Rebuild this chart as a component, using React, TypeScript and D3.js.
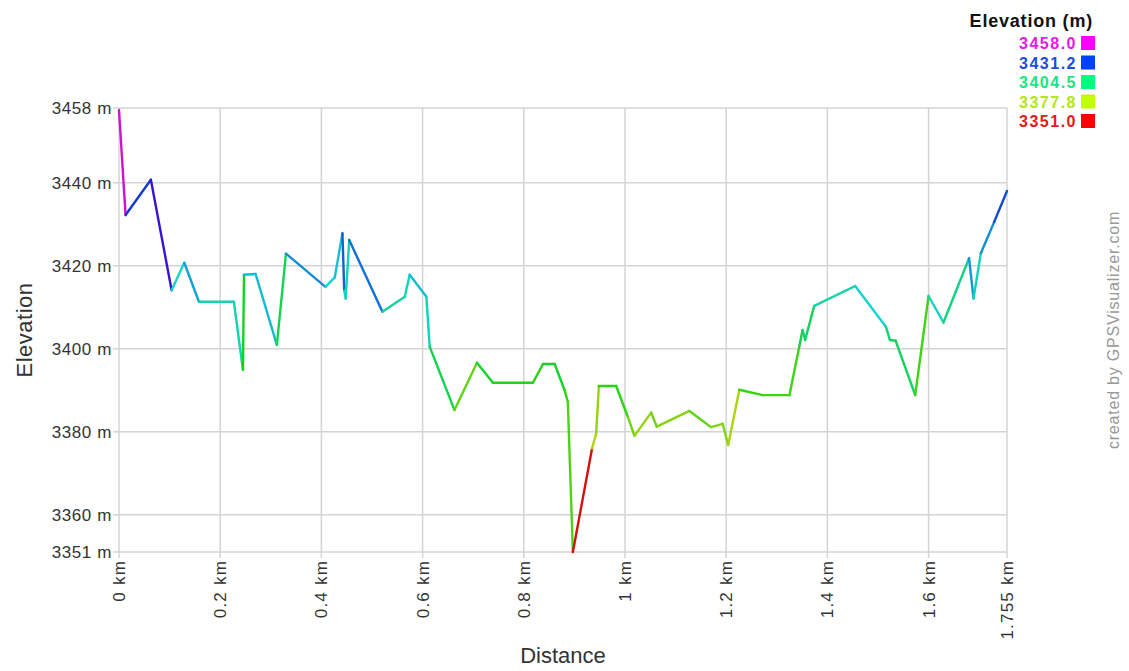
import React from 'react';
import * as d3 from 'd3';

const WIDTH = 1129;
const HEIGHT = 671;
const MARGIN = { top: 108, right: 122, bottom: 119, left: 119 };
const FONT = 'Liberation Sans, Arial, sans-serif';

// track profile
const distanceKm = [
  0, 0.013, 0.063, 0.104, 0.129, 0.158, 0.227, 0.245, 0.247, 0.27,
  0.312, 0.33, 0.408, 0.4265, 0.4416, 0.4451, 0.448, 0.455, 0.5206, 0.5647,
  0.5745, 0.6075, 0.614, 0.663, 0.7075, 0.739, 0.818, 0.838, 0.861, 0.8806,
  0.887, 0.897, 0.935, 0.943, 0.9484, 0.9826, 1.0055, 1.0188, 1.0517, 1.063,
  1.1273, 1.17, 1.193, 1.204, 1.226, 1.272, 1.325, 1.3445, 1.351, 1.356,
  1.374, 1.455, 1.5156, 1.5235, 1.535, 1.5736, 1.6, 1.6294, 1.68, 1.6888,
  1.7033, 1.7295, 1.755,
];
const elevationM = [
  3457.5, 3432.2, 3440.7, 3414.1, 3420.7, 3411.3, 3411.3, 3394.9, 3417.8, 3418.0,
  3400.9, 3422.9, 3414.9, 3417.2, 3427.8, 3414.0, 3412.1, 3426.2, 3408.9, 3412.5,
  3417.8, 3412.5, 3400.5, 3385.2, 3396.6, 3391.8, 3391.8, 3396.3, 3396.3, 3390.0,
  3387.2, 3351.0, 3376.0, 3379.6, 3391.0, 3391.0, 3383.6, 3379.0, 3384.6, 3381.2,
  3385.0, 3381.1, 3381.9, 3376.8, 3390.1, 3388.8, 3388.8, 3400.5, 3404.5, 3402.1,
  3410.3, 3415.1, 3405.3, 3402.1, 3401.9, 3388.8, 3412.7, 3406.3, 3421.8, 3412.1,
  3423.0, 3430.5, 3438.0,
];

const yTicks = [3458, 3440, 3420, 3400, 3380, 3360, 3351];
const xTicks = [0, 0.2, 0.4, 0.6, 0.8, 1, 1.2, 1.4, 1.6, 1.755];
const legendValues = [3458.0, 3431.2, 3404.5, 3377.8, 3351.0];

export default function App() {
  const x = d3.scaleLinear()
    .domain([0, 1.755])
    .range([MARGIN.left, WIDTH - MARGIN.right]);
  const y = d3.scaleLinear()
    .domain([3351, 3458])
    .range([HEIGHT - MARGIN.bottom, MARGIN.top]);
  const hue = d3.scaleLinear().domain([3351, 3458]).range([0, 300]);
  const lineColor = (v: number) => d3.hsl(hue(v), 0.85, 0.45).formatHex();
  const textColor = (v: number) => d3.hsl(hue(v), 0.8, 0.5).formatHex();
  const swatch = (v: number) => d3.hsl(hue(v), 1, 0.5).formatHex();

  const points = distanceKm.map((d, i) => ({ d, e: elevationM[i] }));
  const segments = d3.pairs(points);

  const [x0, x1] = x.range();
  const [yb, yt] = y.range();

  return (
    <svg
      width={WIDTH}
      height={HEIGHT}
      style={{ position: 'absolute', left: 0, top: 0, background: '#fff' }}
      fontFamily={FONT}
    >
      {/* grid */}
      <g stroke="#d4d4d4" strokeWidth={1.5}>
        {yTicks.map(t => (
          <line key={'y' + t} x1={x0 - 6} x2={x1} y1={y(t)} y2={y(t)} />
        ))}
        {xTicks.map(t => (
          <line key={'x' + t} x1={x(t)} x2={x(t)} y1={yt} y2={yb + 6} />
        ))}
      </g>

      {/* y tick labels */}
      <g fontSize={17} fill="#333" textAnchor="end">
        {yTicks.map(t => (
          <text key={t} x={x0 - 7} y={y(t) + 6} letterSpacing={0.6}>{t} m</text>
        ))}
      </g>

      {/* x tick labels */}
      <g fontSize={17} fill="#333" textAnchor="end">
        {xTicks.map(t => (
          <text
            key={t}
            transform={`translate(${x(t) + 6},${yb + 8}) rotate(-90)`}
            letterSpacing={1.2}
          >
            {t} km
          </text>
        ))}
      </g>

      {/* profile, each segment coloured by its start elevation */}
      <g strokeWidth={2.4} strokeLinecap="round" strokeLinejoin="round">
        {segments.map(([a, b], i) => (
          <line
            key={i}
            x1={x(a.d)} y1={y(a.e)} x2={x(b.d)} y2={y(b.e)}
            stroke={lineColor(a.e)}
          />
        ))}
      </g>

      {/* axis titles */}
      <text
        transform={`translate(32,${(yt + yb) / 2}) rotate(-90)`}
        textAnchor="middle" fontSize={22} fill="#333" letterSpacing={0.5}
      >
        Elevation
      </text>
      <text x={(x0 + x1) / 2} y={663} textAnchor="middle" fontSize={22} fill="#333">
        Distance
      </text>

      {/* legend */}
      <text x={1093} y={27} textAnchor="end" fontSize={18} fontWeight="bold"
        fill="#111" letterSpacing={0.8}>
        Elevation (m)
      </text>
      {legendValues.map((v, i) => (
        <g key={v} transform={`translate(0,${43 + i * 19.5})`}>
          <text x={1077} y={6} textAnchor="end" fontSize={16} fontWeight="bold"
            fill={textColor(v)} letterSpacing={1.5}>
            {v.toFixed(1)}
          </text>
          <rect x={1081} y={-7} width={14} height={14} fill={swatch(v)} />
        </g>
      ))}

      <text
        transform={`translate(1119,330) rotate(-90)`}
        textAnchor="middle" fontSize={16} fill="#999" letterSpacing={0.8}
      >
        created by GPSVisualizer.com
      </text>
    </svg>
  );
}
